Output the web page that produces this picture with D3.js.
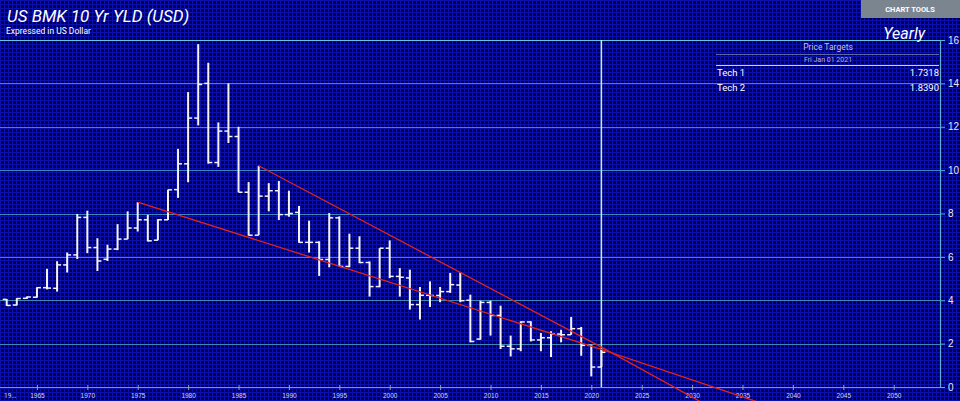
<!DOCTYPE html>
<html>
<head>
<meta charset="utf-8">
<script src="https://cdn.jsdelivr.net/npm/d3@7"></script>
<style>
  html, body { margin: 0; padding: 0; background: #00004a; }
  svg { display: block; font-family: Roboto, "Open Sans", sans-serif; }
</style>
</head>
<body>
<div id="chart"></div>
<script>
// yearly OHLC of the 10 yr yield
const years = [1962, 1963, 1964, 1965, 1966, 1967, 1968, 1969, 1970, 1971,
  1972, 1973, 1974, 1975, 1976, 1977, 1978, 1979, 1980, 1981,
  1982, 1983, 1984, 1985, 1986, 1987, 1988, 1989, 1990, 1991,
  1992, 1993, 1994, 1995, 1996, 1997, 1998, 1999, 2000, 2001,
  2002, 2003, 2004, 2005, 2006, 2007, 2008, 2009, 2010, 2011,
  2012, 2013, 2014, 2015, 2016, 2017, 2018, 2019, 2020, 2021];
const opens = [4.04, 3.78, 4.09, 4.14, 4.58, 4.55, 5.63, 6.09, 7.82, 6.43,
  5.89, 6.36, 6.82, 7.33, 7.71, 6.77, 7.71, 9.10, 10.29, 12.40,
  14.00, 10.35, 11.80, 11.55, 8.98, 7.00, 8.80, 9.05, 7.95, 8.05,
  6.67, 6.67, 5.88, 7.80, 5.56, 6.40, 5.74, 4.63, 6.40, 5.10,
  5.03, 3.80, 4.23, 4.22, 4.40, 4.70, 4.00, 2.21, 3.90, 3.30,
  1.88, 1.76, 3.00, 2.17, 2.27, 2.44, 2.41, 2.69, 1.92, 0.92];
const highs = [4.06, 4.10, 4.17, 4.60, 5.45, 5.80, 6.20, 7.98, 8.13, 6.86,
  6.56, 7.51, 8.10, 8.52, 7.94, 7.74, 9.10, 10.98, 13.60, 15.81,
  14.95, 12.20, 14.00, 12.00, 9.45, 10.20, 9.40, 9.50, 9.05, 8.35,
  7.67, 6.72, 8.02, 7.87, 7.07, 6.95, 5.79, 6.40, 6.76, 5.48,
  5.41, 4.61, 4.87, 4.61, 5.26, 5.29, 4.26, 3.98, 3.98, 3.75,
  2.37, 3.03, 3.03, 2.49, 2.57, 2.64, 3.23, 2.77, 1.95, 1.78];
const lows = [3.74, 3.76, 4.06, 4.12, 4.50, 4.40, 5.28, 5.90, 6.17, 5.35,
  5.81, 6.31, 6.82, 7.17, 6.71, 6.77, 7.70, 8.72, 9.44, 12.06,
  10.30, 10.15, 11.25, 8.98, 6.98, 7.00, 8.10, 7.70, 7.85, 6.65,
  6.20, 5.12, 5.52, 5.56, 5.52, 5.71, 4.17, 4.60, 5.02, 4.17,
  3.57, 3.11, 3.69, 3.91, 4.34, 3.91, 2.06, 2.18, 2.37, 1.75,
  1.41, 1.65, 2.10, 1.65, 1.38, 2.06, 2.41, 1.44, 0.49, 0.92];
const closes = [3.76, 4.08, 4.15, 4.58, 4.56, 5.63, 6.09, 7.82, 6.43, 5.81,
  6.36, 6.82, 7.33, 7.71, 6.74, 7.71, 9.09, 10.29, 12.40, 13.95,
  10.35, 11.80, 11.55, 8.98, 7.00, 8.80, 9.05, 7.95, 8.00, 6.67,
  6.67, 5.88, 7.80, 5.56, 6.40, 5.74, 4.63, 6.40, 5.10, 5.06,
  3.80, 4.23, 4.22, 4.40, 4.72, 3.98, 2.10, 3.90, 3.30, 1.88,
  1.76, 3.00, 2.17, 2.27, 2.44, 2.41, 2.69, 1.92, 0.92, 1.60];

// trend lines: start point, target at the marker date, end point where they leave the picture
const trendNames = ["Tech 1", "Tech 2"];
const trendStartYears = [1975, 1987];
const trendStartValues = [8.52, 10.20];
const trendTargets = [1.7318, 1.8390];
const trendEndYears = [2036.7, 2031.0];
const trendEndValues = [-0.72, -0.72];

const targetDate = "Fri Jan 01 2021";
const targetYear = 2021;

const yTicks = [0, 2, 4, 6, 8, 10, 12, 14, 16];
const xTickYears = [1965, 1970, 1975, 1980, 1985, 1990, 1995, 2000, 2005, 2010,
  2015, 2020, 2025, 2030, 2035, 2040, 2045, 2050];

const toDate = y => {
    const yr = Math.floor(y);
    const d0 = new Date(yr, 0, 1), d1 = new Date(yr + 1, 0, 1);
    return new Date(+d0 + (y - yr) * (d1 - d0));
};

class OhlcChart {
    constructor(element) {
        this.width = 960;
        this.height = 401;
        this.plot = {left: 0, right: 940, top: 40, bottom: 387};
        this.rootEle = element;
    }

    render() {
        const svg = d3.select(this.rootEle).append("svg")
            .attr("width", this.width)
            .attr("height", this.height);

        // fine blue mesh behind everything
        const defs = svg.append("defs");
        const pat = defs.append("pattern")
            .attr("id", "mesh")
            .attr("width", 4).attr("height", 4)
            .attr("patternUnits", "userSpaceOnUse");
        pat.append("rect").attr("width", 4).attr("height", 4).attr("fill", "#000048");
        pat.append("path")
            .attr("d", "M0 0.5H4M0.5 0V4")
            .attr("stroke", "#0a0fae")
            .attr("stroke-width", 1);
        svg.append("rect")
            .attr("width", this.width).attr("height", this.height)
            .attr("fill", "url(#mesh)");

        const x = d3.scaleTime()
            .domain([new Date(1962, 0, 1), new Date(2050, 0, 1)])
            .range([6.7, 893.7]);
        const y = d3.scaleLinear()
            .domain([0, 16])
            .range([this.plot.bottom, this.plot.top]);

        // horizontal grid
        svg.append("g")
            .selectAll("line")
            .data(yTicks.filter(d => d > 0))
            .join("line")
                .attr("x1", 0)
                .attr("x2", this.plot.right)
                .attr("y1", d => Math.round(y(d)) + 0.5)
                .attr("y2", d => Math.round(y(d)) + 0.5)
                .attr("stroke", d => d === 16 ? "#62c4e6" : "#3a88bc")
                .attr("stroke-width", 1.2);

        // right axis
        const yAxis = svg.append("g")
            .attr("transform", `translate(${this.plot.right}, 0)`)
            .call(d3.axisRight(y).tickValues(yTicks).tickSize(5).tickPadding(3));
        yAxis.select(".domain").attr("stroke", "#5aaee0").attr("stroke-width", 1.2);
        yAxis.selectAll(".tick line").attr("stroke", "#5aaee0");
        yAxis.selectAll("text")
            .attr("fill", "#e8e8f0")
            .attr("font-size", "10px");

        // bottom axis
        const xAxis = svg.append("g")
            .attr("transform", `translate(0, ${this.plot.bottom})`)
            .call(d3.axisBottom(x)
                .tickValues(xTickYears.map(v => toDate(v)))
                .tickFormat(d3.timeFormat("%Y"))
                .tickSize(3)
                .tickPadding(3));
        xAxis.select(".domain")
            .attr("d", `M0,0.5H${this.plot.right}`)
            .attr("stroke", "#6f9ea8");
        xAxis.selectAll(".tick line").attr("stroke", "#8aa8b0").attr("y1", -2);
        xAxis.selectAll("text")
            .attr("fill", "#d8d8e0")
            .attr("font-size", "6.5px");
        svg.append("text")
            .attr("x", 4)
            .attr("y", 398)
            .attr("fill", "#d8d8e0")
            .attr("font-size", "6.5px")
            .text("19...");

        // marker line at the target date
        svg.append("line")
            .attr("x1", x(toDate(targetYear)))
            .attr("x2", x(toDate(targetYear)))
            .attr("y1", this.plot.top)
            .attr("y2", this.plot.bottom)
            .attr("stroke", "#c4f0e4")
            .attr("stroke-width", 1.5);

        // OHLC bars
        const bars = years.map((yr, i) => ({
            date: toDate(yr), o: opens[i], h: highs[i], l: lows[i], c: closes[i]
        }));
        const g = svg.append("g").attr("stroke", "#f4f4f8");
        g.selectAll(".hl")
            .data(bars)
            .join("line")
                .attr("x1", d => x(d.date))
                .attr("x2", d => x(d.date))
                .attr("y1", d => y(d.h))
                .attr("y2", d => y(d.l))
                .attr("stroke-width", 2);
        g.selectAll(".open")
            .data(bars)
            .join("line")
                .attr("x1", d => x(d.date) - 4)
                .attr("x2", d => x(d.date))
                .attr("y1", d => y(d.o))
                .attr("y2", d => y(d.o))
                .attr("stroke-width", 1.5);
        g.selectAll(".close")
            .data(bars)
            .join("line")
                .attr("x1", d => x(d.date))
                .attr("x2", d => x(d.date) + 4)
                .attr("y1", d => y(d.c))
                .attr("y2", d => y(d.c))
                .attr("stroke-width", 1.5);

        // trend lines
        svg.append("g")
            .selectAll("path")
            .data(trendNames.map((n, i) => [
                [trendStartYears[i], trendStartValues[i]],
                [targetYear, trendTargets[i]],
                [trendEndYears[i], trendEndValues[i]]
            ]))
            .join("path")
                .attr("d", d3.line(d => x(toDate(d[0])), d => y(d[1])))
                .attr("fill", "none")
                .attr("stroke", "#e3221a")
                .attr("stroke-width", 1.3);

        // price target table
        const tbl = svg.append("g");
        const tx0 = 716, tx1 = 939, tcx = 828;
        tbl.append("text")
            .attr("x", tcx).attr("y", 50)
            .attr("text-anchor", "middle")
            .attr("fill", "#c4c4cc")
            .attr("font-size", "8.5px")
            .text("Price Targets");
        tbl.append("line")
            .attr("x1", tx0).attr("x2", tx1).attr("y1", 54.5).attr("y2", 54.5)
            .attr("stroke", "#5a6aa0");
        tbl.append("text")
            .attr("x", tcx).attr("y", 62)
            .attr("text-anchor", "middle")
            .attr("fill", "#b8b8c4")
            .attr("font-size", "7px")
            .text(targetDate);
        tbl.append("line")
            .attr("x1", tx0).attr("x2", tx1).attr("y1", 65.5).attr("y2", 65.5)
            .attr("stroke", "#d0d4e4");
        trendNames.forEach((n, i) => {
            tbl.append("text")
                .attr("x", tx0 + 1).attr("y", 76 + i * 15)
                .attr("fill", "#ffffff")
                .attr("font-size", "9.5px")
                .text(n);
            tbl.append("text")
                .attr("x", tx1).attr("y", 76 + i * 15)
                .attr("text-anchor", "end")
                .attr("fill", "#ffffff")
                .attr("font-size", "9.5px")
                .text(trendTargets[i].toFixed(4));
        });

        // titles
        svg.append("text")
            .attr("x", 7).attr("y", 22)
            .attr("fill", "#ffffff")
            .attr("font-size", "17px")
            .attr("font-style", "italic")
            .text("US BMK 10 Yr YLD (USD)");
        svg.append("text")
            .attr("x", 6).attr("y", 34)
            .attr("fill", "#ffffff")
            .attr("font-size", "8.5px")
            .text("Expressed in US Dollar");
        svg.append("text")
            .attr("x", 925).attr("y", 39)
            .attr("text-anchor", "end")
            .attr("fill", "#ffffff")
            .attr("font-size", "16px")
            .attr("font-style", "italic")
            .text("Yearly");

        // chart tools button
        svg.append("rect")
            .attr("x", 861).attr("y", 0)
            .attr("width", 99).attr("height", 18)
            .attr("fill", "#7b858f");
        svg.append("text")
            .attr("x", 910).attr("y", 10)
            .attr("text-anchor", "middle")
            .attr("dominant-baseline", "middle")
            .attr("fill", "#ffffff")
            .attr("font-size", "7.5px")
            .attr("font-weight", "bold")
            .text("CHART TOOLS");
    }
}

new OhlcChart(document.getElementById("chart")).render();
</script>
</body>
</html>
